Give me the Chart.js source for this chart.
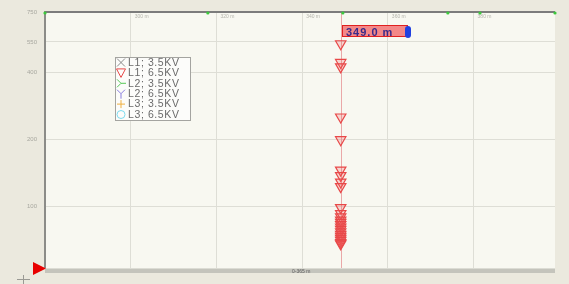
<!DOCTYPE html>
<html>
<head>
<meta charset="utf-8">
<script src="https://cdn.jsdelivr.net/npm/chart.js@4.4.0/dist/chart.umd.min.js"></script>
<style>
  html, body { margin: 0; padding: 0; background: #ebe9de; }
  #wrap { width: 569px; height: 284px; position: relative; }
</style>
</head>
<body>
<div id="wrap"><canvas id="pd"></canvas></div>
<script>
/* ───────── DATA ───────── */
const xTicks = [300, 320, 340, 360, 380];
const yTicks = [100, 200, 400, 550, 750];
const xRange = [280, 399];
const yRange = [53, 750];
const cursorPos = 349;
const eventPos = [280, 318, 349.5, 374, 381.5, 399];
const seriesLabels = ["L1; 3.5KV", "L1; 6.5KV", "L2; 3.5KV", "L2; 6.5KV", "L3; 3.5KV", "L3; 6.5KV"];
const seriesColors = ["#8c8c8c", "#e84848", "#58c858", "#8a7ee0", "#f0b040", "#7cdcf0"];
const l1Low  = [];
const l1High = [540, 445, 425, 253, 200, 146, 138, 129, 123, 99, 93, 90, 87, 85, 83, 81, 79, 77, 75, 73.5, 72, 70.5, 69, 68];
const l2Low  = [];
const l2High = [];
const l3Low  = [];
const l3High = [];

const seriesData = [l1Low, l1High, l2Low, l2High, l3Low, l3High];

/* ───────── EXTRAS (frame, cursor, legend) ───────── */
const glyph = (ctx, i, cx, cy) => {
  ctx.save();
  ctx.strokeStyle = seriesColors[i];
  ctx.lineWidth = 1;
  ctx.beginPath();
  if (i === 0) {
    ctx.moveTo(cx - 4, cy - 4); ctx.lineTo(cx + 4, cy + 4);
    ctx.moveTo(cx + 4, cy - 4); ctx.lineTo(cx - 4, cy + 4);
  } else if (i === 1) {
    ctx.moveTo(cx - 4.5, cy - 4); ctx.lineTo(cx + 4.5, cy - 4); ctx.lineTo(cx, cy + 4.5); ctx.closePath();
  } else if (i === 2) {
    ctx.moveTo(cx - 4, cy - 4); ctx.lineTo(cx, cy);
    ctx.moveTo(cx - 4, cy + 4); ctx.lineTo(cx, cy);
    ctx.lineTo(cx + 5, cy);
  } else if (i === 3) {
    ctx.moveTo(cx - 4, cy - 4); ctx.lineTo(cx, cy);
    ctx.moveTo(cx + 4, cy - 4); ctx.lineTo(cx, cy);
    ctx.lineTo(cx, cy + 5);
  } else if (i === 4) {
    ctx.moveTo(cx - 4, cy); ctx.lineTo(cx + 4, cy);
    ctx.moveTo(cx, cy - 4); ctx.lineTo(cx, cy + 4);
  } else {
    ctx.arc(cx, cy, 4, 0, Math.PI * 2);
  }
  ctx.stroke();
  ctx.restore();
};

const frame = {
  id: "frame",
  beforeDraw(chart) {
    const { ctx, chartArea: a } = chart;
    ctx.save();
    ctx.fillStyle = "#ebe9de";
    ctx.fillRect(0, 0, chart.width, chart.height);
    ctx.fillStyle = "#f8f8f1";
    ctx.fillRect(a.left, a.top, a.right - a.left, a.bottom - a.top);
    ctx.restore();
  },
  beforeDatasetsDraw(chart) {
    const { ctx, chartArea: a, scales: { x } } = chart;
    ctx.save();
    // distance labels along the top of the plot
    ctx.fillStyle = "#b4b4ac";
    ctx.font = "5px Arial";
    xTicks.forEach(v => ctx.fillText(v + " m", x.getPixelForValue(v) + 4, a.top + 6));
    // cursor line
    const cx = Math.round(x.getPixelForValue(cursorPos)) + 0.5;
    ctx.strokeStyle = "#eaa8a8";
    ctx.lineWidth = 1;
    ctx.beginPath();
    ctx.moveTo(cx, a.top); ctx.lineTo(cx, a.bottom);
    ctx.stroke();
    ctx.restore();
  },
  afterDraw(chart) {
    const { ctx, chartArea: a, scales: { x } } = chart;
    ctx.save();
    // top border
    ctx.strokeStyle = "#7c7c7c";
    ctx.lineWidth = 2;
    ctx.beginPath();
    ctx.moveTo(a.left, a.top); ctx.lineTo(a.right, a.top);
    ctx.stroke();
    // bottom scroll bar
    ctx.fillStyle = "#c4c4bc";
    ctx.fillRect(a.left, a.bottom, a.right - a.left, 5);
    ctx.fillStyle = "#dcdcd4";
    ctx.fillRect(a.left, a.bottom, a.right - a.left, 1);
    ctx.fillStyle = "#606060";
    ctx.font = "5px Arial";
    ctx.fillText("0-365 m", 292, a.bottom + 5);
    // event markers on top edge
    ctx.fillStyle = "#3cc83c";
    eventPos.forEach(v => {
      ctx.beginPath();
      ctx.arc(x.getPixelForValue(v), a.top + 1, 1.6, 0, Math.PI * 2);
      ctx.fill();
    });
    // start marker bottom-left
    ctx.fillStyle = "#e80000";
    ctx.beginPath();
    ctx.moveTo(33, a.bottom - 6); ctx.lineTo(33, a.bottom + 7); ctx.lineTo(46, a.bottom + 0.5);
    ctx.closePath();
    ctx.fill();
    ctx.strokeStyle = "#9a9a94";
    ctx.lineWidth = 1;
    ctx.beginPath();
    ctx.moveTo(17, 279.5); ctx.lineTo(30, 279.5);
    ctx.moveTo(23.5, 275); ctx.lineTo(23.5, 284);
    ctx.stroke();
    // cursor readout
    const cx = Math.round(x.getPixelForValue(cursorPos));
    ctx.fillStyle = "#f48888";
    ctx.strokeStyle = "#e02020";
    ctx.lineWidth = 1;
    ctx.fillRect(cx + 1, 25, 66, 12);
    ctx.strokeRect(cx + 1.5, 25.5, 65, 11);
    ctx.fillStyle = "#2040e0";
    ctx.beginPath();
    ctx.roundRect(cx + 64, 26, 6, 12, 3);
    ctx.fill();
    ctx.fillStyle = "#3a2a8a";
    ctx.font = "bold 11px Arial";
    ctx.letterSpacing = "1px";
    ctx.fillText(cursorPos.toFixed(1) + " m", cx + 5, 35.5);
    // legend
    ctx.letterSpacing = "0.6px";
    ctx.fillStyle = "#fcfcfa";
    ctx.fillRect(115, 57, 75, 63);
    ctx.strokeStyle = "#a4a4a0";
    ctx.strokeRect(115.5, 57.5, 75, 63);
    ctx.font = "10.5px Arial";
    ctx.textBaseline = "middle";
    seriesLabels.forEach((lab, i) => {
      const cy = 62.5 + i * 10.4;
      glyph(ctx, i, 121, cy);
      ctx.fillStyle = "#6a6a6a";
      ctx.fillText(lab, 128, cy + 0.5);
    });
    ctx.restore();
  }
};

/* ───────── CHART ───────── */
const ctx = document.getElementById("pd").getContext("2d");
new Chart(ctx, {
  type: "scatter",
  data: {
    datasets: seriesLabels.map((lab, i) => ({
      label: lab,
      data: seriesData[i].map(v => ({ x: cursorPos, y: v })),
      pointStyle: "triangle",
      rotation: 180,
      pointRadius: 6,
      pointBorderWidth: 1.2,
      borderColor: seriesColors[i],
      backgroundColor: "rgba(240,90,90,0.22)"
    }))
  },
  options: {
    responsive: true,
    maintainAspectRatio: false,
    animation: false,
    layout: { padding: { left: 0, right: 14, top: 12, bottom: 16 } },
    plugins: { legend: { display: false }, tooltip: { enabled: false } },
    scales: {
      x: {
        type: "linear",
        min: xRange[0],
        max: xRange[1],
        afterBuildTicks: s => { s.ticks = xTicks.map(v => ({ value: v })); },
        afterFit: s => { s.height = 0; },
        ticks: { display: false },
        border: { display: false },
        grid: { color: "#deded6", lineWidth: 1, drawTicks: false }
      },
      y: {
        type: "logarithmic",
        min: yRange[0],
        max: yRange[1],
        afterBuildTicks: s => { s.ticks = yTicks.map(v => ({ value: v })); },
        afterFit: s => { s.width = 45; },
        ticks: { color: "#a8a8a0", font: { size: 6, family: "Arial" }, padding: 8, callback: v => String(v) },
        border: { color: "#8c8c88", width: 2 },
        grid: { color: "#deded6", lineWidth: 1, drawTicks: false }
      }
    }
  },
  plugins: [frame]
});
</script>
</body>
</html>
